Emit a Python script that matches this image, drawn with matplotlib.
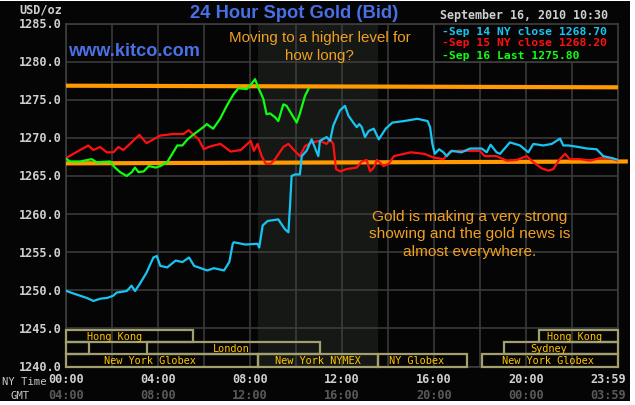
import matplotlib
matplotlib.use("Agg")
import matplotlib.pyplot as plt
from matplotlib.patches import Rectangle

# ---------------- data ----------------
sep14_hours = [0.03, 0.3, 0.6, 0.9, 1.19, 1.5, 1.8, 2.06, 2.2, 2.64, 2.85, 3.0, 3.2, 3.5, 3.8, 3.95,
               4.1, 4.4, 4.77, 5.06, 5.35, 5.57, 6.14, 6.43, 6.87, 7.1, 7.25, 7.3, 7.8, 8.33, 8.4,
               8.55, 8.77, 9.23, 9.52, 9.67, 9.74, 9.81, 9.96, 10.17, 10.25, 10.46, 10.68, 10.85,
               10.97, 11.04, 11.33, 11.48, 11.62, 11.91, 12.13, 12.28, 12.49, 12.64, 12.75, 12.86,
               13.0, 13.16, 13.38, 13.6, 13.9, 14.19, 14.7, 15.28, 15.72, 15.83, 15.93, 16.03,
               16.22, 16.41, 16.55, 16.77, 17.2, 17.57, 18.07, 18.29, 18.46, 18.72, 18.87, 19.3,
               19.74, 20.1, 20.32, 20.75, 21.12, 21.48, 21.62, 21.84, 22.28, 22.64, 23.07, 23.36,
               23.8, 24.0]
sep14_values = [1249.9, 1249.6, 1249.3, 1249.0, 1248.6, 1248.9, 1249.0, 1249.3, 1249.7, 1249.9, 1250.6,
                1249.9, 1250.8, 1252.3, 1254.3, 1254.5, 1253.2, 1253.0, 1253.9, 1253.7, 1254.3, 1253.2,
                1252.6, 1252.9, 1252.6, 1253.7, 1256.1, 1256.3, 1256.0, 1256.1, 1255.6, 1258.5, 1259.1,
                1259.3, 1258.0, 1257.6, 1261.1, 1265.0, 1265.2, 1265.2, 1267.6, 1268.3, 1269.8, 1268.5,
                1267.6, 1269.6, 1270.1, 1269.6, 1271.6, 1273.6, 1274.2, 1272.9, 1272.0, 1271.4, 1271.8,
                1271.4, 1270.1, 1270.9, 1271.2, 1269.8, 1271.2, 1272.0, 1272.2, 1272.5, 1272.2, 1271.4,
                1269.2, 1267.9, 1268.5, 1268.1, 1267.6, 1268.3, 1268.1, 1268.6, 1268.6, 1268.1, 1269.1,
                1268.1, 1267.9, 1269.4, 1269.0, 1268.1, 1269.2, 1269.0, 1269.2, 1269.9, 1269.0, 1269.0,
                1268.8, 1268.6, 1268.5, 1267.6, 1267.3, 1267.1]

sep15_hours = [0.03, 0.32, 0.61, 0.97, 1.19, 1.48, 1.77, 2.06, 2.28, 2.49, 2.78, 3.19, 3.5, 3.8, 4.1,
               4.67, 5.1, 5.33, 5.55, 5.77, 5.99, 6.2, 6.43, 6.72, 7.16, 7.6, 8.03, 8.17, 8.33, 8.51,
               8.68, 8.9, 9.09, 9.45, 9.67, 9.88, 10.17, 10.39, 10.68, 11.04, 11.33, 11.48, 11.62,
               11.74, 11.91, 12.2, 12.64, 12.86, 13.07, 13.22, 13.38, 13.52, 13.81, 14.03, 14.26,
               14.99, 15.57, 16.0, 16.41, 16.7, 17.13, 18.0, 18.2, 18.72, 19.16, 19.6, 20.03, 20.32,
               20.68, 20.97, 21.19, 21.41, 21.7, 21.9, 22.35, 22.78, 23.3, 23.8, 24.0]
sep15_values = [1267.4, 1267.9, 1268.4, 1269.0, 1268.4, 1268.8, 1268.1, 1268.1, 1268.8, 1268.4, 1269.2,
                1270.4, 1269.3, 1269.8, 1270.3, 1270.5, 1270.5, 1271.0, 1270.4, 1269.8, 1268.5, 1268.8,
                1269.0, 1269.2, 1268.2, 1268.4, 1269.6, 1268.3, 1269.2, 1267.6, 1266.6, 1266.6, 1267.2,
                1268.8, 1269.2, 1268.5, 1267.6, 1268.9, 1269.4, 1269.6, 1269.2, 1269.8, 1269.2, 1265.9,
                1265.6, 1265.9, 1266.1, 1266.9, 1267.1, 1265.6, 1266.1, 1267.1, 1266.3, 1266.6, 1267.6,
                1268.1, 1267.9, 1267.4, 1267.2, 1268.2, 1268.3, 1268.3, 1267.6, 1267.6, 1267.0, 1267.1,
                1267.6, 1266.8, 1266.0, 1265.7, 1265.9, 1267.0, 1267.9, 1267.2, 1267.2, 1267.0, 1267.4,
                1267.2, 1267.0]

sep16_hours = [0.03, 0.17, 0.61, 1.12, 1.33, 1.91, 2.13, 2.35, 2.64, 2.86, 3.0, 3.15, 3.38, 3.6, 3.9,
               4.1, 4.4, 4.62, 4.84, 5.06, 5.28, 5.57, 5.97, 6.12, 6.4, 6.7, 6.99, 7.28, 7.49, 7.86,
               8.07, 8.22, 8.36, 8.58, 8.72, 8.87, 9.09, 9.23, 9.45, 9.59, 9.81, 10.03, 10.17, 10.39,
               10.54]
sep16_values = [1267.2, 1266.9, 1266.9, 1267.2, 1266.8, 1266.9, 1266.1, 1265.5, 1265.0, 1265.5, 1266.1,
                1265.5, 1265.6, 1266.3, 1266.1, 1266.3, 1266.8, 1267.9, 1269.0, 1269.0, 1269.8, 1270.5,
                1271.4, 1271.8, 1271.2, 1272.5, 1274.2, 1275.7, 1276.5, 1276.4, 1277.1, 1277.7, 1276.6,
                1275.1, 1273.1, 1273.2, 1272.7, 1272.2, 1274.4, 1274.2, 1273.1, 1272.0, 1273.2, 1275.5,
                1276.4]

upper_level_hours = [0.0, 24.0]
upper_level_values = [1276.84, 1276.63]
lower_level_hours = [0.0, 24.43]
lower_level_values = [1266.65, 1266.9]

legend_labels = ["Sep 14 NY close 1268.70", "Sep 15 NY close 1268.20", "Sep 16 Last 1275.80"]
y_ticks = [1240, 1245, 1250, 1255, 1260, 1265, 1270, 1275, 1280, 1285]
x_tick_hours = [0, 4, 8, 12, 16, 20, 23.57]
ny_labels = ["00:00", "04:00", "08:00", "12:00", "16:00", "20:00", "23:59"]
gmt_labels = ["04:00", "08:00", "12:00", "16:00", "20:00", "00:00", "03:59"]

# trading sessions
session_names = ["Hong Kong", "", "London", "New York Globex", "New York NYMEX", "NY Globex",
                 "New York Globex", "Sydney", "Hong Kong"]
session_rows = [0, 1, 1, 2, 2, 2, 2, 1, 0]
session_starts = [0.0, 0.0, 3.52, 0.0, 8.35, 13.57, 18.09, 19.04, 20.57]
session_ends = [5.52, 1.0, 11.04, 8.35, 13.57, 17.43, 24.0, 24.0, 24.0]
session_label_pos = [2.13, 0.5, 7.17, 3.65, 10.93, 15.24, 20.96, 20.98, 22.09]

shade_start, shade_end = 8.35, 13.55

# ---------------- figure ----------------
W, H = 635, 406
fig = plt.figure(figsize=(W / 100, H / 100), dpi=100, facecolor="white")
fig.patches.append(Rectangle((0, 4 / H), 630 / W, 400 / H, transform=fig.transFigure,
                             facecolor="#050505", edgecolor="none", zorder=-10))

def fx(x):
    return x / W

def fy(y):
    return 1 - y / H

ax_left, ax_right, ax_top, ax_bottom = 66, 618, 24.5, 367.5
ax = fig.add_axes([fx(ax_left), fy(ax_bottom), (ax_right - ax_left) / W, (ax_bottom - ax_top) / H])
ax.set_facecolor("#050505")
ax.set_xlim(0, 24)
ax.set_ylim(1240, 1285)

grid_c = "#3e3e3e"
for s in ax.spines.values():
    s.set_color(grid_c)
    s.set_linewidth(1.2)
ax.set_xticks(range(0, 25, 2))
ax.set_yticks(y_ticks)
ax.grid(True, color=grid_c, linewidth=1.1)
ax.set_axisbelow(True)
ax.tick_params(length=0, labelbottom=False, labelleft=False)

mono = "DejaVu Sans Mono"
for v in y_ticks:
    ax.text(-0.17, v, f"{v:.1f}", transform=ax.transData, ha="right", va="center",
            fontsize=8.6, fontweight="bold", family=mono, color="#cfcfcf")

ax.axvspan(shade_start, shade_end, ymin=0, ymax=1, color="#151815", zorder=0.5, lw=0)

row_tops = [1244.8, 1243.2, 1241.6]
row_h = 1.6
olive = "#a39f6e"
for name, row, st, en, lp in zip(session_names, session_rows, session_starts, session_ends,
                                 session_label_pos):
    bottom = row_tops[row] - row_h
    ax.add_patch(Rectangle((st, bottom), en - st, row_h, fill=False, edgecolor=olive,
                           linewidth=1.6, zorder=3, clip_on=False))
    if name:
        ax.text(lp, bottom + row_h / 2, name, ha="center", va="center", family=mono,
                fontsize=7.4, color="#ffc400", zorder=4)

ax.plot(upper_level_hours, upper_level_values, color="#ff9a00", linewidth=3.0, zorder=5,
        solid_capstyle="butt", clip_on=False)
ax.plot(lower_level_hours, lower_level_values, color="#ff9a00", linewidth=3.0, zorder=5,
        solid_capstyle="butt", clip_on=False)

c14, c15, c16 = "#18c4f2", "#ff1010", "#10ff10"
ax.plot(sep15_hours, sep15_values, color=c15, linewidth=1.6, zorder=6)
ax.plot(sep14_hours, sep14_values, color=c14, linewidth=1.6, zorder=6)
ax.plot(sep16_hours, sep16_values, color=c16, linewidth=1.6, zorder=7)

ax.add_patch(Rectangle((16.0, 1280.0), 8.0, 5.0, facecolor="#050505", edgecolor=grid_c,
                       linewidth=1.2, zorder=8))
leg_y = [31.7, 43.2, 55.7]
for lab, col, yy in zip(legend_labels, [c14, c15, c16], leg_y):
    fig.text(fx(442), fy(yy), "-" + lab, ha="left", va="center", family=mono,
             fontsize=8.2, fontweight="bold", color=col, zorder=9)

fig.text(fx(524), fy(16), "September 16, 2010 10:30", ha="center", va="center", family=mono,
         fontsize=8.4, fontweight="bold", color="#cfcfcf")
fig.text(fx(41), fy(10), "USD/oz", ha="center", va="center", family=mono,
         fontsize=8.6, fontweight="bold", color="#cfcfcf")
fig.text(fx(294), fy(13), "24 Hour Spot Gold (Bid)", ha="center", va="center",
         family="Liberation Sans", fontsize=13.2, fontweight="bold", color="#4a70e6")
fig.text(fx(68), fy(51), "www.kitco.com", ha="left", va="center",
         family="Liberation Sans", fontsize=13.1, fontweight="bold", color="#4a70e6", zorder=9)
fig.text(fx(319.5), fy(47), "Moving to a higher level for\nhow long?", ha="center", va="center",
         family="Liberation Sans", fontsize=10.9, color="#f0a020", linespacing=1.3, zorder=9)
fig.text(fx(470), fy(234.5), "Gold is making a very strong\nshowing and the gold news is\nalmost everywhere.",
         ha="center", va="center", family="Liberation Sans", fontsize=11.1, color="#f0a020",
         linespacing=1.3, zorder=9)

for h, ny, gm in zip(x_tick_hours, ny_labels, gmt_labels):
    x = ax_left + h * (ax_right - ax_left) / 24
    fig.text(fx(x), fy(380), ny, ha="center", va="center", family=mono, fontsize=8.6,
             fontweight="bold", color="#cfcfcf")
    fig.text(fx(x), fy(396), gm, ha="center", va="center", family=mono, fontsize=8.6,
             fontweight="bold", color="#5a5a5a")
fig.text(fx(24), fy(382), "NY Time", ha="center", va="center", family=mono, fontsize=7.6,
         color="#c8c8c8")
fig.text(fx(20), fy(396), "GMT", ha="center", va="center", family=mono, fontsize=7.6,
         color="#c8c8c8")

fig.savefig("out.png", dpi=100, facecolor="white")
